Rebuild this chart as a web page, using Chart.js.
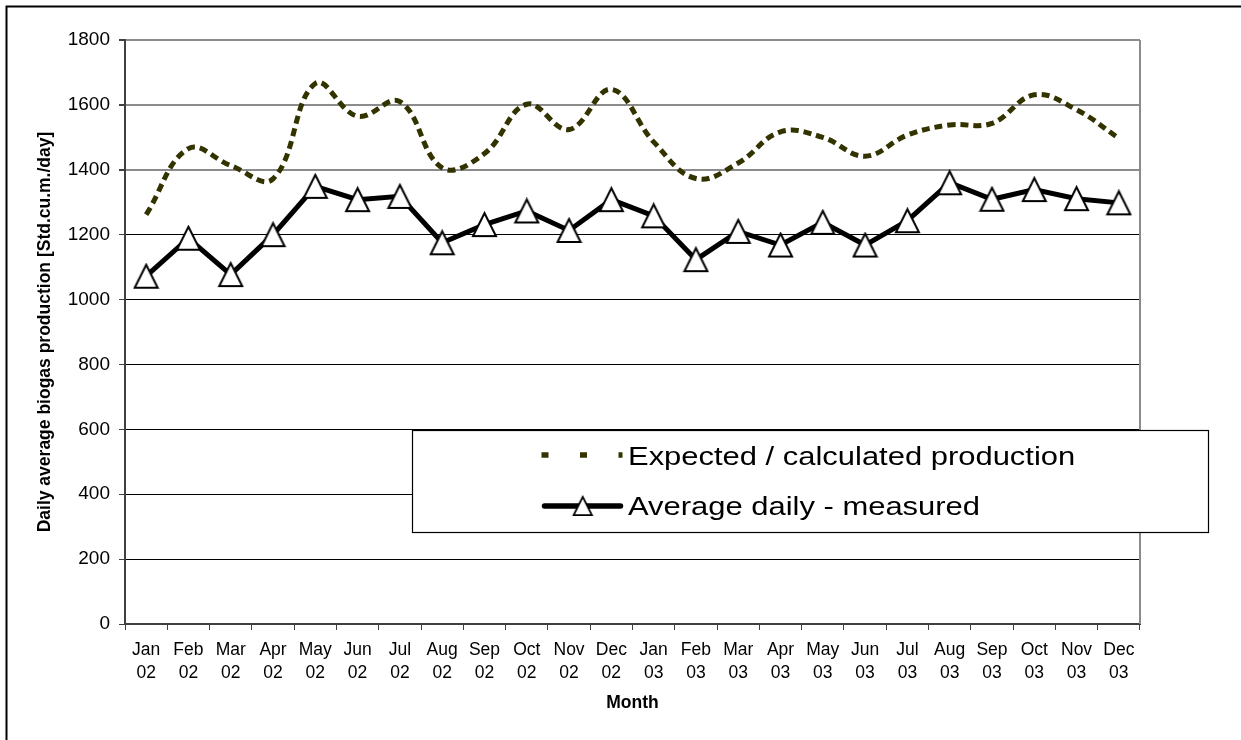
<!DOCTYPE html>
<html>
<head>
<meta charset="utf-8">
<title>Daily average biogas production</title>
<script src="https://cdn.jsdelivr.net/npm/chart.js@4.4.1/dist/chart.umd.min.js"></script>
<style>
  html, body { margin: 0; padding: 0; background: #ffffff; }
  #wrap { width: 1241px; height: 740px; }
</style>
</head>
<body>
<div id="wrap"><canvas id="c" width="1241" height="740"></canvas></div>
<script>
// Category labels: month name over two-digit year
const months = ['Jan', 'Feb', 'Mar', 'Apr', 'May', 'Jun', 'Jul', 'Aug', 'Sep', 'Oct', 'Nov', 'Dec'];
const years = ['02', '03'];

// Daily average biogas production, Std.cu.m./day
const expectedProduction = [1262, 1465, 1413, 1372, 1666, 1565, 1610, 1406, 1450, 1602, 1524, 1648,
                            1486, 1373, 1421, 1517, 1500, 1442, 1507, 1538, 1543, 1631, 1585, 1497];
const measuredProduction = [1072, 1189, 1077, 1200, 1349, 1308, 1318, 1175, 1231, 1273, 1213, 1308,
                            1258, 1123, 1210, 1168, 1238, 1168, 1243, 1360, 1309, 1339, 1311, 1298];

const yTickValues = [0, 200, 400, 600, 800, 1000, 1200, 1400, 1600, 1800];
const seriesNames = ['Expected / calculated production', 'Average daily - measured'];
const axisTitles = { x: 'Month', y: 'Daily average biogas production [Std.cu.m./day]' };

const labels = [];
years.forEach(y => months.forEach(m => labels.push([m, y])));

const FONT = '"Liberation Sans", Arial, Helvetica, sans-serif';
const OLIVE = '#333300';

// Open triangle marker, tip at top and base at bottom, centred on the point
function makeTriangle(size, lw) {
  const c = document.createElement('canvas');
  c.width = size + 2; c.height = size + 2;
  const g = c.getContext('2d');
  const o = 1, s = size;
  g.beginPath();
  g.moveTo(o + s / 2, o + lw / 2);
  g.lineTo(o + s - lw / 2, o + s - lw / 2);
  g.lineTo(o + lw / 2, o + s - lw / 2);
  g.closePath();
  g.fillStyle = '#ffffff';
  g.fill();
  g.lineWidth = lw;
  g.lineJoin = 'miter';
  g.strokeStyle = '#000000';
  g.stroke();
  return c;
}
const triMarker = makeTriangle(25, 2);

// White page, outer frame and the plot's right edge
const framePlugin = {
  id: 'frame',
  beforeDraw(chart) {
    const ctx = chart.ctx;
    ctx.save();
    ctx.fillStyle = '#ffffff';
    ctx.fillRect(0, 0, chart.width, chart.height);
    ctx.restore();
  },
  afterDraw(chart) {
    const ctx = chart.ctx;
    const a = chart.chartArea;
    ctx.save();
    ctx.strokeStyle = '#8c8c8c';
    ctx.lineWidth = 2;
    ctx.beginPath();
    ctx.moveTo(a.right, a.top);
    ctx.lineTo(a.right, a.bottom);
    ctx.stroke();
    ctx.strokeStyle = '#000000';
    ctx.lineWidth = 2;
    ctx.beginPath();
    ctx.moveTo(6.5, chart.height + 10);
    ctx.lineTo(6.5, 6.5);
    ctx.lineTo(chart.width + 10, 6.5);
    ctx.stroke();
    ctx.restore();
  }
};

// Boxed legend inside the plot area
const boxLegendPlugin = {
  id: 'boxLegend',
  afterDraw(chart) {
    const ctx = chart.ctx;
    const ds = chart.data.datasets;
    const box = { x: 412.5, y: 430.5, w: 796, h: 102 };
    ctx.save();
    ctx.fillStyle = '#ffffff';
    ctx.fillRect(box.x, box.y, box.w, box.h);
    ctx.strokeStyle = '#000000';
    ctx.lineWidth = 1.2;
    ctx.strokeRect(box.x, box.y, box.w, box.h);

    const x0 = 541.5, x1 = 622.5, textX = 628;
    const rows = [455, 506];

    // dashed sample
    ctx.strokeStyle = ds[0].borderColor;
    ctx.lineWidth = 5.5;
    ctx.lineCap = 'butt';
    ctx.setLineDash([7, 31.5]);
    ctx.beginPath();
    ctx.moveTo(x0, rows[0]);
    ctx.lineTo(x1, rows[0]);
    ctx.stroke();
    ctx.setLineDash([]);

    // solid sample with marker
    ctx.strokeStyle = ds[1].borderColor;
    ctx.lineWidth = 5.5;
    ctx.lineCap = 'round';
    ctx.beginPath();
    ctx.moveTo(x0 + 3, rows[1]);
    ctx.lineTo(x1 - 2, rows[1]);
    ctx.stroke();
    const lm = makeTriangle(20, 1.8);
    ctx.drawImage(lm, 582.7 - lm.width / 2, rows[1] - lm.height / 2);

    // entry texts
    ctx.fillStyle = '#000000';
    ctx.font = '26px ' + FONT;
    ctx.textBaseline = 'alphabetic';
    ctx.textAlign = 'left';
    const baselines = [465, 515];
    ds.forEach((d, i) => {
      ctx.save();
      ctx.translate(textX, baselines[i]);
      ctx.scale(1.19, 1);
      ctx.fillText(d.label, 0, 0);
      ctx.restore();
    });
    ctx.restore();
  }
};

new Chart(document.getElementById('c'), {
  type: 'line',
  data: {
    labels: labels,
    datasets: [
      {
        label: seriesNames[0],
        data: expectedProduction,
        borderColor: OLIVE,
        backgroundColor: OLIVE,
        borderWidth: 5,
        borderDash: [8, 5],
        borderCapStyle: 'butt',
        tension: 0.4,
        pointRadius: 0,
        pointHoverRadius: 0,
        fill: false
      },
      {
        label: seriesNames[1],
        data: measuredProduction,
        borderColor: '#000000',
        backgroundColor: '#ffffff',
        borderWidth: 5,
        tension: 0,
        pointStyle: triMarker,
        pointRadius: 13,
        fill: false
      }
    ]
  },
  options: {
    responsive: false,
    animation: false,
    devicePixelRatio: 1,
    layout: { padding: { left: 0, top: 40, right: 101, bottom: 0 } },
    plugins: {
      legend: { display: false },
      tooltip: { enabled: false }
    },
    scales: {
      x: {
        type: 'category',
        offset: true,
        grid: {
          offset: true,
          drawOnChartArea: false,
          tickLength: 6,
          color: '#404040',
          lineWidth: 1
        },
        border: { color: '#404040', width: 2 },
        ticks: {
          autoSkip: false,
          maxRotation: 0,
          minRotation: 0,
          padding: 9,
          color: '#000000',
          font: { family: FONT, size: 17.5, lineHeight: 1.32 }
        },
        title: {
          display: true,
          text: axisTitles.x,
          color: '#000000',
          font: { family: FONT, size: 17.5, weight: 'bold', lineHeight: 1.2 },
          padding: { top: 0, bottom: 26 }
        },
        afterFit(scale) { scale.height = 116; }
      },
      y: {
        min: 0,
        max: 1800,
        afterBuildTicks(scale) { scale.ticks = yTickValues.map(v => ({ value: v })); },
        grid: {
          color: c => (c.tick && c.tick.value >= 1400) ? '#8c8c8c' : '#000000',
          lineWidth: c => (c.tick && c.tick.value >= 1400) ? 2 : 1,
          tickColor: '#404040',
          tickLength: 6
        },
        border: { color: '#404040', width: 2 },
        ticks: {
          padding: 9,
          color: '#000000',
          font: { family: FONT, size: 19 },
          callback: v => String(v)
        },
        title: {
          display: true,
          text: axisTitles.y,
          color: '#000000',
          font: { family: FONT, size: 17.5, weight: 'bold', lineHeight: 1.2 },
          padding: { top: 34.5, bottom: 0 }
        },
        afterFit(scale) { scale.width = 125; }
      }
    }
  },
  plugins: [framePlugin, boxLegendPlugin]
});
</script>
</body>
</html>
